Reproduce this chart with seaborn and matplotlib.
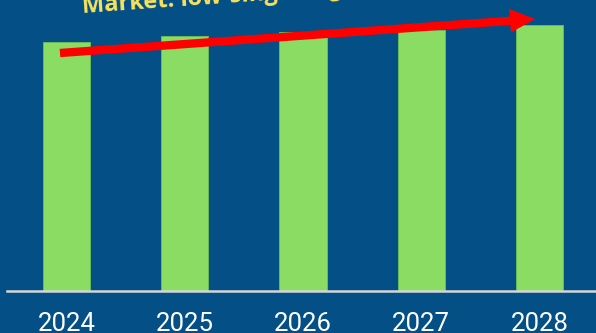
import matplotlib
matplotlib.use("Agg")
import matplotlib.pyplot as plt
import seaborn as sns
import pandas as pd

# Market size by year (USD billions)
years = ["2024", "2025", "2026", "2027", "2028"]
market_size = [24.9, 25.5, 25.9, 26.1, 26.6]
headline = "Market: low-single-digit growth"

bg = "#034f86"
bar_green = "#8adc63"

sns.set_theme(style="white")
plt.rcParams["font.family"] = ["Roboto", "DejaVu Sans"]

df = pd.DataFrame({"year": years, "size": market_size})

W, H = 596, 333
fig = plt.figure(figsize=(W / 100, H / 100), dpi=100, facecolor=bg)
ax = fig.add_axes([7.3 / W, 42 / H, 591.5 / W, 291 / H])
ax.set_facecolor(bg)

sns.barplot(data=df, x="year", y="size", color=bar_green, saturation=1,
            width=0.4, edgecolor="#6fbf55", linewidth=0.6, ax=ax)

ax.set_ylim(0, 29.1)
ax.set_xlim(-0.5, 4.5)
ax.set_xlabel("")
ax.set_ylabel("")
ax.set_yticks([])
for side in ("left", "right", "top"):
    ax.spines[side].set_visible(False)
ax.spines["bottom"].set_color("#d6d6d6")
ax.spines["bottom"].set_linewidth(1.8)
ax.tick_params(axis="x", length=0, pad=15, labelsize=18.5, labelcolor="white")

# Trend arrow across the bars
ax.annotate("", xy=(535, H - 19), xytext=(60, H - 53),
            xycoords="figure pixels", textcoords="figure pixels",
            arrowprops=dict(arrowstyle="simple,head_length=18,head_width=17,tail_width=6",
                            mutation_scale=1, color="#ff0000", lw=0,
                            shrinkA=0, shrinkB=0))

fig.text(83 / W, (H - 13) / H, headline, color="#f7e35e", fontsize=17,
         fontweight="bold", family=["Open Sans", "DejaVu Sans"],
         rotation=4, rotation_mode="anchor", ha="left", va="baseline")

fig.savefig("out.png", dpi=100, facecolor=bg)
